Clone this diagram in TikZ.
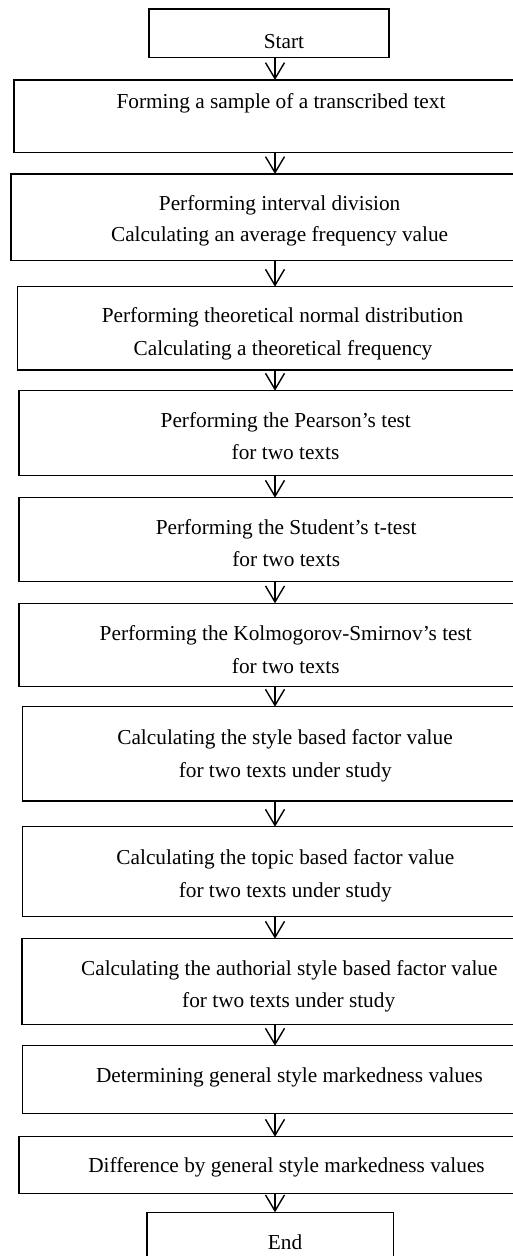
\documentclass[tikz,border=0pt]{standalone}
\usepackage{fontspec}
\setmainfont{Liberation Serif}
\usetikzlibrary{arrows.meta}
\begin{document}
\begin{tikzpicture}[x=1pt,y=-1pt,
  box/.style={draw=black,line width=1.2pt,rectangle,inner sep=0pt,outer sep=0pt,anchor=north west},
  txt/.style={anchor=base,inner sep=0pt,font=\fontsize{21.3}{32}\selectfont},
  arr/.style={line width=1.4pt,-{Straight Barb[length=16pt,width=19pt,line width=1.4pt]}}]
\useasboundingbox (0,0) rectangle (513,1256);
\clip (0,0) rectangle (513,1256);
\fill[white] (0,0) rectangle (513,1256);
\coordinate (ax) at (275,0);
% boxes
\node[box,minimum width=240pt,minimum height=48.7pt] (b1) at (149,9) {};
\node[box,minimum width=501pt,minimum height=72.3pt] (b2) at (14,80) {};
\node[box,minimum width=504pt,minimum height=86.7pt] (b3) at (11,174) {};
\node[box,minimum width=497.7pt,minimum height=83.3pt] (b4) at (17.3,286.7) {};
\node[box,minimum width=496pt,minimum height=85pt] (b5) at (19,390.7) {};
\node[box,minimum width=496pt,minimum height=84pt] (b6) at (19,497.7) {};
\node[box,minimum width=496pt,minimum height=83.4pt] (b7) at (19,603.3) {};
\node[box,minimum width=492.7pt,minimum height=94.3pt] (b8) at (22.3,706.7) {};
\node[box,minimum width=492.7pt,minimum height=90pt] (b9) at (22.3,826.7) {};
\node[box,minimum width=493pt,minimum height=85.6pt] (b10) at (22,938.7) {};
\node[box,minimum width=492.7pt,minimum height=67.6pt] (b11) at (22.3,1045.7) {};
\node[box,minimum width=496pt,minimum height=56.6pt] (b12) at (19,1136.7) {};
\node[box,minimum width=246.3pt,minimum height=60pt] (b13) at (147,1212.3) {};
% texts
\node[txt] (t1) at (284,48) {Start};
\node[txt] (t2) at (281,108.7) {Forming a sample of a transcribed text};
\node[txt] (t3a) at (279.6,210.3) {Performing interval division};
\node[txt] (t3b) at (279.6,241.7) {Calculating an average frequency value};
\node[txt] (t4a) at (282.5,322.7) {Performing theoretical normal distribution};
\node[txt] (t4b) at (283,355) {Calculating a theoretical frequency};
\node[txt] (t5a) at (285.8,427.7) {Performing the Pearson’s test};
\node[txt] (t5b) at (285.5,459.3) {for two texts};
\node[txt] (t6a) at (286.2,534.3) {Performing the Student’s t-test};
\node[txt] (t6b) at (286.2,566) {for two texts};
\node[txt] (t7a) at (285.8,640) {Performing the Kolmogorov-Smirnov’s test};
\node[txt] (t7b) at (285.8,673.7) {for two texts};
\node[txt] (t8a) at (285,744.3) {Calculating the style based factor value};
\node[txt] (t8b) at (285.3,777) {for two texts under study};
\node[txt] (t9a) at (285.3,864.3) {Calculating the topic based factor value};
\node[txt] (t9b) at (285.3,897) {for two texts under study};
\node[txt] (t10a) at (289.3,975.3) {Calculating the authorial style based factor value};
\node[txt] (t10b) at (288.7,1007.7) {for two texts under study};
\node[txt] (t11) at (289.5,1082.7) {Determining general style markedness values};
\node[txt] (t12) at (286.5,1172.7) {Difference by general style markedness values};
\node[txt] (t13) at (285,1249.3) {End};
% arrows
\foreach \a/\b in {b1/b2,b2/b3,b3/b4,b4/b5,b5/b6,b6/b7,b7/b8,b8/b9,b9/b10,b10/b11,b11/b12,b12/b13}
  \draw[arr] (\a.south -| ax) -- (\b.north -| ax);
\end{tikzpicture}
\end{document}
